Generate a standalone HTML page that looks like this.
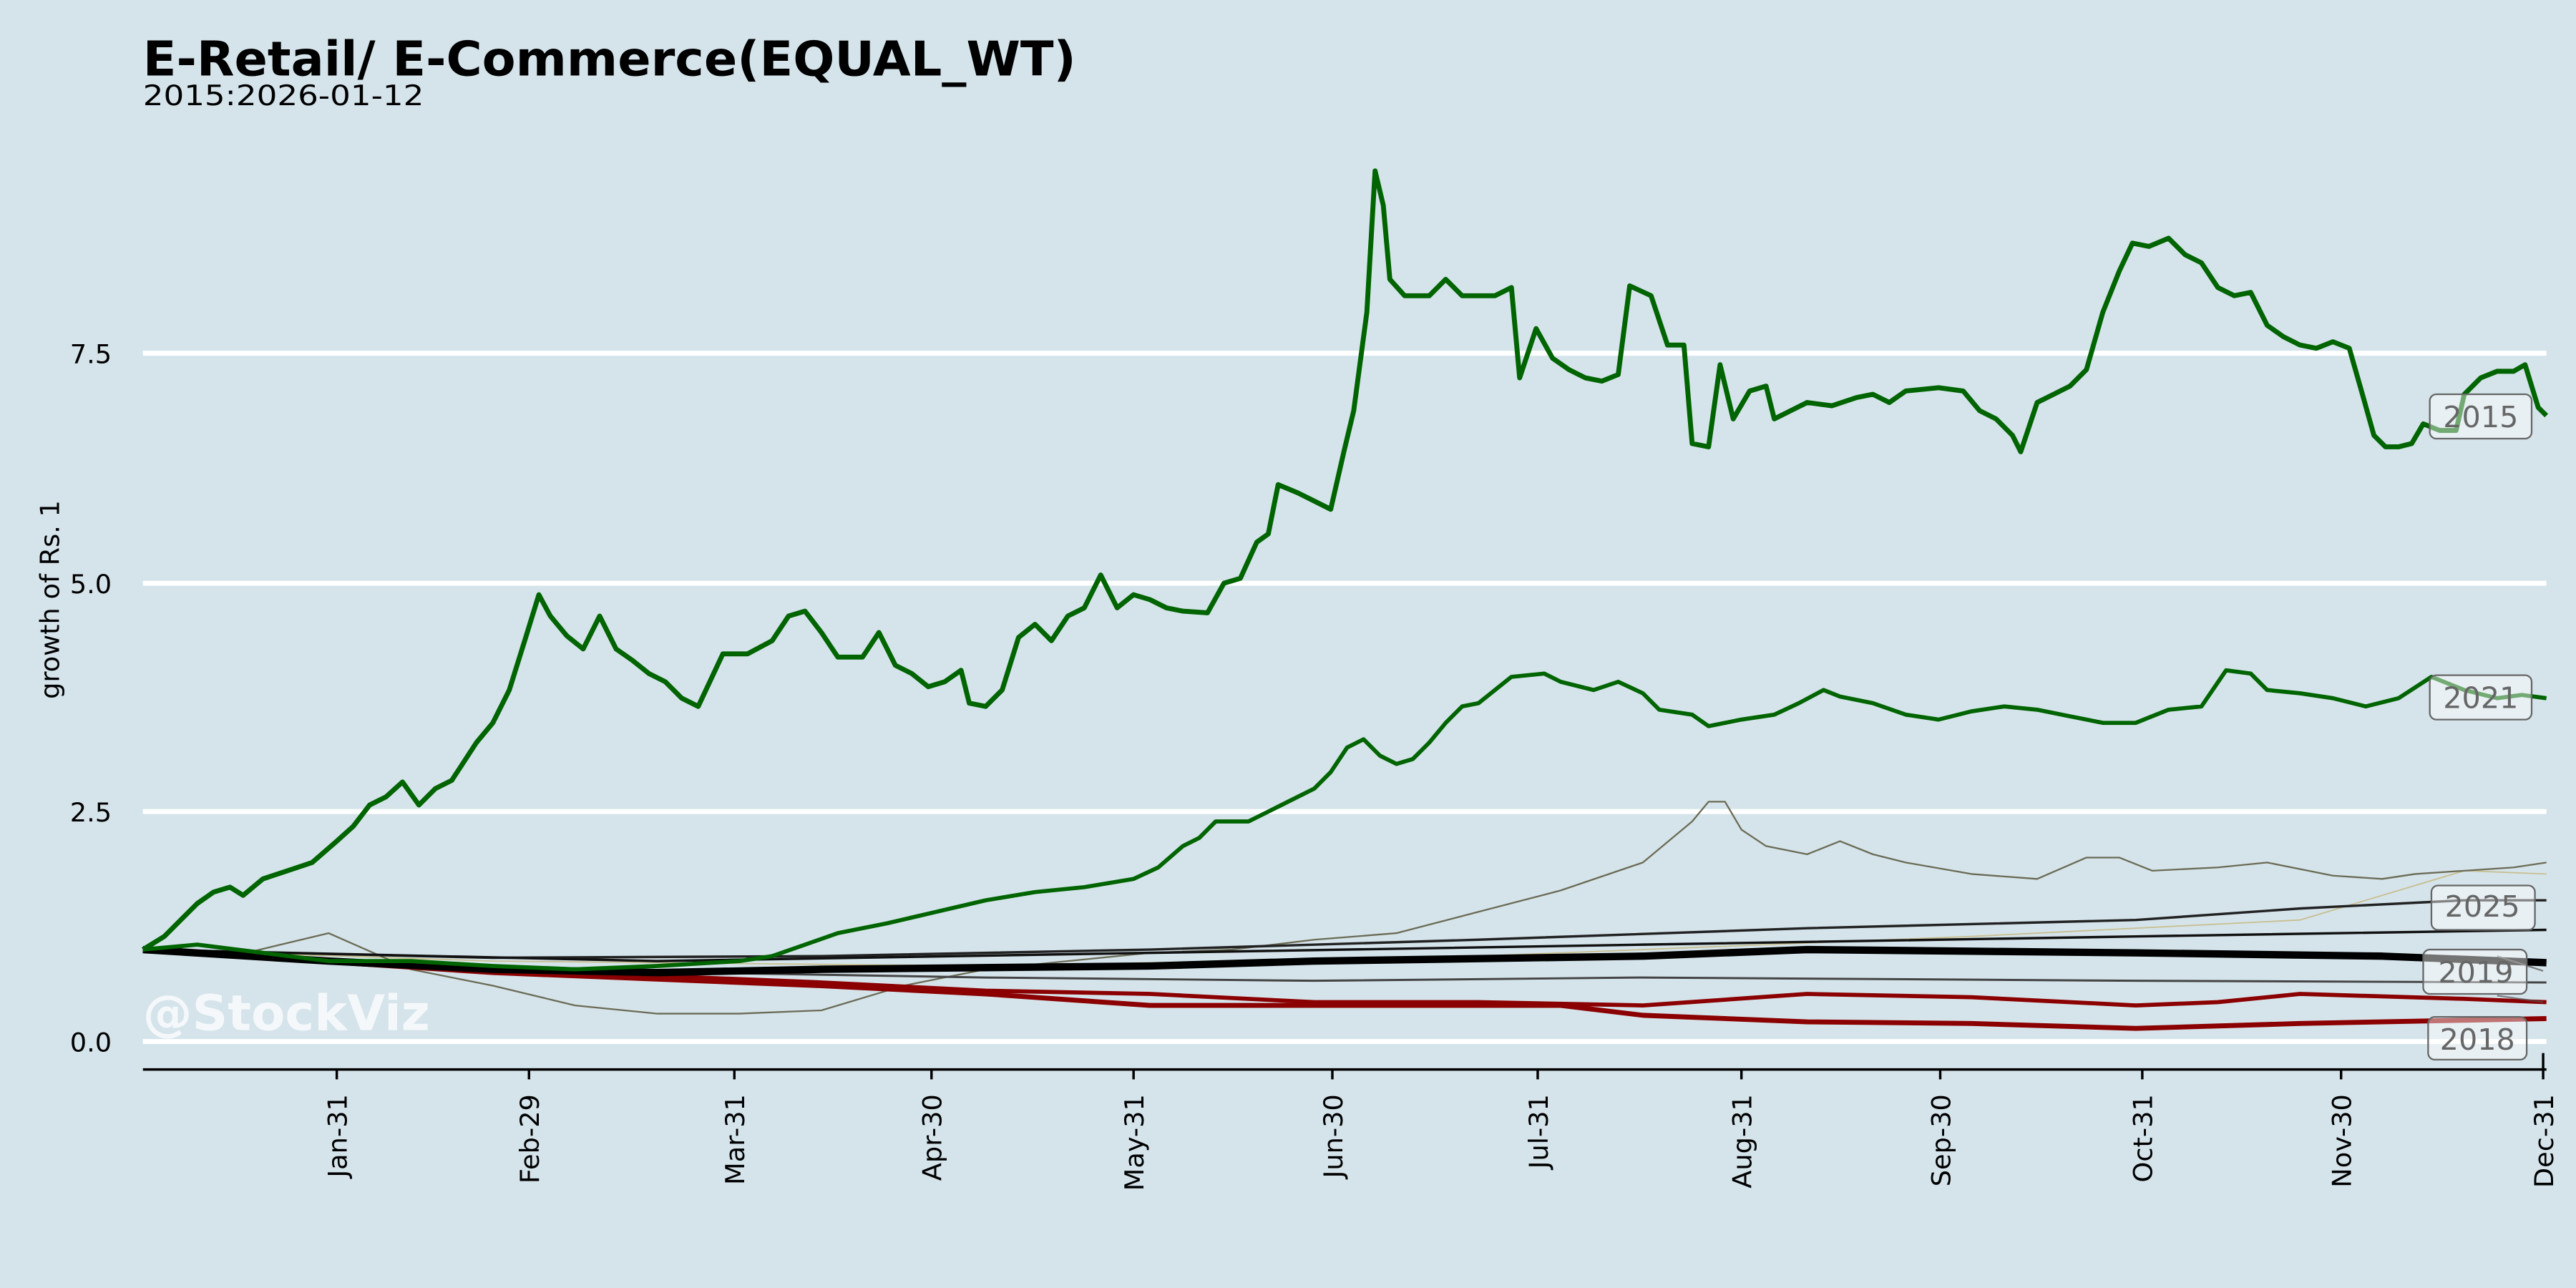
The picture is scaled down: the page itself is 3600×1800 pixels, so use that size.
<!DOCTYPE html>
<html><head><meta charset="utf-8"><style>
html,body{margin:0;padding:0;background:#d5e4eb;}
svg{display:block;}
text{font-family:"DejaVu Sans","Liberation Sans",sans-serif;}
</style></head><body>
<svg width="3600" height="1800" viewBox="0 0 1568 784" preserveAspectRatio="none" xmlns="http://www.w3.org/2000/svg">
<rect width="1568" height="784" fill="#d5e4eb"/>
<text x="87" y="46" font-size="29" font-weight="bold" fill="#000" textLength="568" lengthAdjust="spacingAndGlyphs">E-Retail/ E-Commerce(EQUAL_WT)</text>
<text x="87" y="64" font-size="17" fill="#000" textLength="171" lengthAdjust="spacingAndGlyphs">2015:2026-01-12</text>
<g stroke="#fff" stroke-width="3">
<line x1="87" y1="215" x2="1550" y2="215"/>
<line x1="87" y1="355" x2="1550" y2="355"/>
<line x1="87" y1="494" x2="1550" y2="494"/>
<line x1="87" y1="634" x2="1550" y2="634"/>
</g>
<g font-size="16" fill="#000" text-anchor="end">
<text x="68" y="221">7.5</text><text x="68" y="361">5.0</text><text x="68" y="500">2.5</text><text x="68" y="640">0.0</text>
</g>
<text transform="translate(36,365) rotate(-90)" font-size="16" text-anchor="middle">growth of Rs. 1</text>
<line x1="87" y1="651" x2="1550" y2="651" stroke="#000" stroke-width="1.5"/>
<g stroke="#000" stroke-width="1.5">
<line x1="205" y1="651" x2="205" y2="657"/><line x1="322" y1="651" x2="322" y2="657"/><line x1="447" y1="651" x2="447" y2="657"/><line x1="567" y1="651" x2="567" y2="657"/><line x1="690" y1="651" x2="690" y2="657"/><line x1="811" y1="651" x2="811" y2="657"/><line x1="936" y1="651" x2="936" y2="657"/><line x1="1060" y1="651" x2="1060" y2="657"/><line x1="1181" y1="651" x2="1181" y2="657"/><line x1="1304" y1="651" x2="1304" y2="657"/><line x1="1425" y1="651" x2="1425" y2="657"/><line x1="1548" y1="641" x2="1548" y2="657"/>
</g>
<g font-size="16" fill="#000" text-anchor="end">
<text transform="translate(211,666) rotate(-90)">Jan-31</text>
<text transform="translate(328,666) rotate(-90)">Feb-29</text>
<text transform="translate(453,666) rotate(-90)">Mar-31</text>
<text transform="translate(573,666) rotate(-90)">Apr-30</text>
<text transform="translate(696,666) rotate(-90)">May-31</text>
<text transform="translate(817,666) rotate(-90)">Jun-30</text>
<text transform="translate(942,666) rotate(-90)">Jul-31</text>
<text transform="translate(1066,666) rotate(-90)">Aug-31</text>
<text transform="translate(1187,666) rotate(-90)">Sep-30</text>
<text transform="translate(1310,666) rotate(-90)">Oct-31</text>
<text transform="translate(1431,666) rotate(-90)">Nov-30</text>
<text transform="translate(1554,666) rotate(-90)">Dec-31</text>
</g>
<g fill="none" stroke-linejoin="round">
<polyline stroke="#c8bf90" stroke-width="0.8" points="87,578 300,585 600,588 900,582 1200,570 1400,560 1500,530 1550,532"/>
<polyline stroke="#6b6b55" stroke-width="1" points="87,578 150,580 200,568 250,590 300,600 350,612 400,617 450,617 500,615 550,600 600,590 650,585 700,580 750,578 800,572 850,568 900,555 950,542 1000,525 1030,500 1040,488 1050,488 1060,505 1075,515 1100,520 1120,512 1140,520 1160,525 1200,532 1240,535 1270,522 1290,522 1310,530 1350,528 1380,525 1420,533 1450,535 1470,532 1500,530 1530,528 1550,525"/>
<polyline stroke="#222" stroke-width="1.5" points="87,578 300,583 500,582 700,578 900,572 1100,565 1300,560 1400,553 1500,548 1550,548"/>
<polyline stroke="#111" stroke-width="1.5" points="87,578 400,585 700,580 1000,575 1300,570 1550,566"/>
<polyline stroke="#444" stroke-width="1.3" points="87,578 300,590 600,595 800,597 1000,595 1300,597 1550,598"/>
<polyline stroke="#8b0000" stroke-width="2.5" points="87,578 300,590 500,598 600,603 700,605 800,610 900,610 1000,612 1100,605 1200,607 1300,612 1350,610 1400,605 1500,608 1550,610"/>
<polyline stroke="#8b0000" stroke-width="3" points="87,578 300,592 500,600 600,605 700,612 800,612 950,612 1000,618 1100,622 1200,623 1300,626 1400,623 1500,621 1550,620"/>
<polyline stroke="#000" stroke-width="4.5" points="87,578 200,585 300,590 400,592 500,590 700,588 800,585 1000,582 1100,578 1300,580 1450,582 1550,586"/>
<polyline stroke="#006400" stroke-width="2.5" points="87,578 120,575 160,580 200,585 250,585 300,588 350,590 400,588 450,585 470,582 490,575 510,568 540,562 570,555 600,548 630,543 660,540 690,535 705,528 720,515 730,510 740,500 760,500 780,490 800,480 810,470 820,455 830,450 840,460 850,465 860,462 870,452 880,440 890,430 900,428 910,420 920,412 940,410 950,415 970,420 985,415 1000,422 1010,432 1030,435 1040,442 1060,438 1080,435 1095,428 1110,420 1120,424 1140,428 1160,435 1180,438 1200,433 1220,430 1240,432 1260,436 1280,440 1300,440 1320,432 1340,430 1355,408 1370,410 1380,420 1400,422 1420,425 1440,430 1460,425 1480,412 1500,420 1520,425 1535,423 1550,425"/>
<polyline stroke="#006400" stroke-width="3" points="87,578 100,570 110,560 120,550 130,543 140,540 148,545 160,535 175,530 190,525 205,512 215,503 225,490 235,485 245,476 255,490 265,480 275,475 290,452 300,440 310,420 320,388 328,362 335,375 345,387 355,395 365,375 375,395 385,402 395,410 405,415 415,425 425,430 440,398 455,398 470,390 480,375 490,372 500,385 510,400 525,400 535,385 545,405 555,410 565,418 575,415 585,408 590,428 600,430 610,420 620,388 630,380 640,390 650,375 660,370 670,350 680,370 690,362 700,365 710,370 720,372 735,373 745,355 755,352 765,330 772,325 778,295 790,300 800,305 810,310 818,275 824,250 832,190 837,104 842,125 846,170 855,180 870,180 880,170 890,180 900,180 910,180 920,175 925,230 935,200 945,218 955,225 965,230 975,232 985,228 992,174 1005,180 1015,210 1025,210 1030,270 1040,272 1047,222 1055,255 1065,238 1075,235 1080,255 1090,250 1100,245 1115,247 1130,242 1140,240 1150,245 1160,238 1180,236 1195,238 1205,250 1215,255 1225,265 1230,275 1240,245 1250,240 1260,235 1270,225 1280,190 1290,165 1298,148 1308,150 1320,145 1330,155 1340,160 1350,175 1360,180 1370,178 1380,198 1390,205 1400,210 1410,212 1420,208 1430,212 1438,240 1445,265 1452,272 1460,272 1468,270 1475,258 1485,262 1495,262 1500,240 1510,230 1520,226 1530,226 1537,222 1545,248 1550,253"/>
</g>
<g stroke="#555" stroke-width="1" opacity="0.7">
<line x1="1520" y1="582" x2="1548" y2="591"/>
<line x1="1520" y1="606" x2="1548" y2="610"/>
</g>
<g font-size="18" fill="#666" text-anchor="middle">
<rect x="1479" y="240" width="62" height="27" rx="4" fill="#fff" fill-opacity="0.45" stroke="#666" stroke-width="1"/><text x="1510" y="260">2015</text>
<rect x="1479" y="411" width="62" height="27" rx="4" fill="#fff" fill-opacity="0.45" stroke="#666" stroke-width="1"/><text x="1510" y="431">2021</text>
<rect x="1480" y="539" width="63" height="27" rx="4" fill="#fff" fill-opacity="0.45" stroke="#666" stroke-width="1"/><text x="1511" y="558">2025</text>
<rect x="1475" y="578" width="63" height="27" rx="4" fill="#fff" fill-opacity="0.45" stroke="#666" stroke-width="1"/><text x="1507" y="598">2019</text>
<rect x="1478" y="619" width="60" height="26" rx="4" fill="#fff" fill-opacity="0.45" stroke="#666" stroke-width="1"/><text x="1508" y="639">2018</text>
</g>
<text x="87" y="627" font-size="30" font-weight="bold" fill="#fff" fill-opacity="0.75">@StockViz</text>
</svg>
</body></html>
